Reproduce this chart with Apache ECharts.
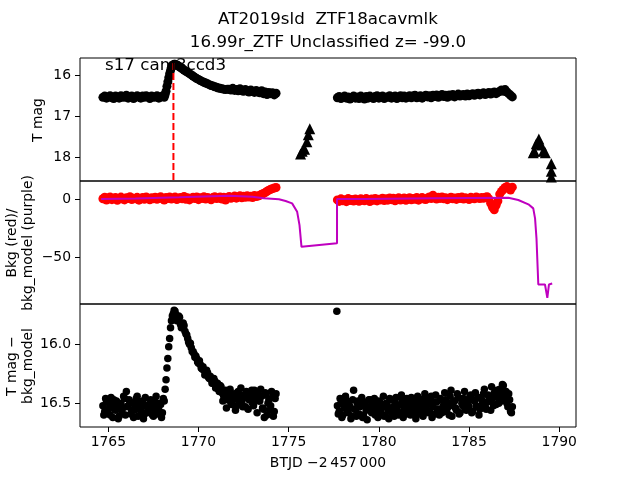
<!DOCTYPE html>
<html>
<head>
<meta charset="utf-8">
<script src="https://cdn.jsdelivr.net/npm/echarts@6/dist/echarts.min.js"></script>
<style>
  html, body { margin: 0; padding: 0; background: #fff; }
  #main { width: 640px; height: 480px; }
</style>
</head>
<body>
<div id="main"></div>
<script>
// first orbit (BTJD - 2457000)
var tA = [
  1764.7, 1764.8, 1764.9, 1765.0, 1765.1, 1765.2, 1765.3, 1765.4, 1765.5, 1765.6,
  1765.7, 1765.8, 1765.9, 1766.0, 1766.1, 1766.2, 1766.3, 1766.4, 1766.5, 1766.6,
  1766.7, 1766.8, 1766.9, 1767.0, 1767.1, 1767.2, 1767.3, 1767.4, 1767.5, 1767.6,
  1767.7, 1767.8, 1767.9, 1768.0, 1768.1, 1768.2, 1768.3, 1768.4, 1768.5, 1768.6,
  1768.7, 1768.8, 1768.9, 1769.0, 1769.1, 1769.2, 1769.3, 1769.4, 1769.5, 1769.6,
  1769.7, 1769.8, 1769.9, 1770.0, 1770.1, 1770.2, 1770.3, 1770.4, 1770.5, 1770.6,
  1770.7, 1770.8, 1770.9, 1771.0, 1771.1, 1771.2, 1771.3, 1771.4, 1771.5, 1771.6,
  1771.7, 1771.8, 1771.9, 1772.0, 1772.1, 1772.2, 1772.3, 1772.4, 1772.5, 1772.6,
  1772.7, 1772.8, 1772.9, 1773.0, 1773.1, 1773.2, 1773.3, 1773.4, 1773.5, 1773.6,
  1773.7, 1773.8, 1773.9, 1774.0, 1774.1, 1774.2, 1774.3
];
var mag1A = [
  16.53, 16.50, 16.55, 16.52, 16.49, 16.54, 16.56, 16.50, 16.52, 16.55,
  16.49, 16.53, 16.52, 16.48, 16.55, 16.52, 16.50, 16.56, 16.53, 16.49,
  16.52, 16.55, 16.50, 16.53, 16.49, 16.52, 16.56, 16.50, 16.53, 16.52,
  16.49, 16.55, 16.52, 16.50, 16.53, 16.38, 16.15, 15.95, 15.80, 15.74,
  15.72, 15.74, 15.77, 15.80, 15.83, 15.86, 15.89, 15.92, 15.95, 15.98,
  16.01, 16.04, 16.07, 16.09, 16.12, 16.14, 16.16, 16.18, 16.20, 16.22,
  16.24, 16.25, 16.27, 16.28, 16.30, 16.31, 16.32, 16.33, 16.34, 16.33,
  16.33, 16.35, 16.31, 16.36, 16.34, 16.37, 16.32, 16.37, 16.38, 16.34,
  16.37, 16.40, 16.35, 16.39, 16.41, 16.36, 16.40, 16.42, 16.37, 16.44,
  16.40, 16.46, 16.41, 16.44, 16.42, 16.47, 16.43
];
var bkgA = [
  0.5, 1.8, -0.6, 1.2, 2.0, -0.3, 0.9, 1.5, -0.8, 0.7,
  1.9, 0.2, -0.5, 1.4, 0.6, 2.2, -0.2, 1.0, 0.4, 1.7,
  -0.7, 0.8, 1.6, 0.1, 2.1, 0.9, -0.4, 1.3, 0.5, 1.8,
  0.0, 1.1, 2.3, 0.4, -0.6, 1.5, 0.7, 1.9, 0.3, 1.2,
  2.0, -0.2, 0.9, 1.6, 0.5, 2.4, 0.1, 1.3, -0.5, 1.0,
  1.8, 0.6, 2.1, -0.3, 1.4, 0.8, 2.2, 0.2, 1.6, 0.9,
  -0.4, 1.5, 2.3, 0.7, 1.1, 2.0, 0.3, 1.7, -0.6, 1.2,
  2.4, 0.9, 1.6, 2.8, 1.0, 2.2, 3.0, 1.4, 2.6, 1.8,
  3.1, 2.0, 2.7, 1.5, 3.3, 2.4, 2.9, 3.5, 4.4, 5.0,
  5.8, 7.0, 7.9, 8.6, 9.2, 9.8, 10.2
];
var mag3A = [
  16.52, 16.57, 16.49, 16.55, 16.60, 16.51, 16.47, 16.56, 16.53, 16.61,
  16.50, 16.54, 16.46, 16.40, 16.52, 16.49, 16.56, 16.62, 16.51, 16.44,
  16.55, 16.53, 16.48, 16.59, 16.52, 16.57, 16.50, 16.54, 16.61, 16.49,
  16.53, 16.56, 16.51, 16.58, 16.48, 16.30, 16.12, 15.95, 15.80, 15.74,
  15.72, 15.80, 15.76, 15.83, 15.85, 15.84, 15.91, 15.95, 16.00, 16.03,
  16.06, 16.11, 16.12, 16.16, 16.17, 16.21, 16.22, 16.25, 16.24, 16.29,
  16.30, 16.33, 16.31, 16.36, 16.38, 16.35, 16.41, 16.44, 16.39, 16.47,
  16.43, 16.50, 16.42, 16.46, 16.52, 16.40, 16.45, 16.49, 16.43, 16.53,
  16.41, 16.47, 16.44, 16.50, 16.39, 16.46, 16.42, 16.48, 16.44, 16.55,
  16.41, 16.60, 16.47, 16.52, 16.45, 16.57, 16.42
];
// half-step cadences of the first orbit (bottom panel only)
var tA2 = [
  1764.75, 1764.85, 1764.95, 1765.05, 1765.15, 1765.25, 1765.35, 1765.45, 1765.55, 1765.65,
  1765.75, 1765.85, 1765.95, 1766.05, 1766.15, 1766.25, 1766.35, 1766.45, 1766.55, 1766.65,
  1766.75, 1766.85, 1766.95, 1767.05, 1767.15, 1767.25, 1767.35, 1767.45, 1767.55, 1767.65,
  1767.75, 1767.85, 1767.95, 1768.05, 1768.15, 1768.25, 1768.35, 1768.45, 1768.55, 1768.65,
  1768.75, 1768.85, 1768.95, 1769.05, 1769.15, 1769.25, 1769.35, 1769.45, 1769.55, 1769.65,
  1769.75, 1769.85, 1769.95, 1770.05, 1770.15, 1770.25, 1770.35, 1770.45, 1770.55, 1770.65,
  1770.75, 1770.85, 1770.95, 1771.05, 1771.15, 1771.25, 1771.35, 1771.45, 1771.55, 1771.65,
  1771.75, 1771.85, 1771.95, 1772.05, 1772.15, 1772.25, 1772.35, 1772.45, 1772.55, 1772.65,
  1772.75, 1772.85, 1772.95, 1773.05, 1773.15, 1773.25, 1773.35, 1773.45, 1773.55, 1773.65,
  1773.75, 1773.85, 1773.95, 1774.05, 1774.15, 1774.25
];
var mag3A2 = [
  16.60, 16.46, 16.58, 16.50, 16.45, 16.62, 16.55, 16.48, 16.63, 16.51,
  16.57, 16.44, 16.60, 16.53, 16.47, 16.59, 16.50, 16.56, 16.46, 16.61,
  16.49, 16.57, 16.63, 16.45, 16.58, 16.52, 16.47, 16.60, 16.55, 16.44,
  16.59, 16.50, 16.62, 16.46, 16.38, 16.20, 16.02, 15.86, 15.76, 15.71,
  15.75, 15.79, 15.77, 15.86, 15.82, 15.89, 15.92, 15.98, 15.99, 16.06,
  16.08, 16.10, 16.15, 16.14, 16.20, 16.19, 16.26, 16.22, 16.28, 16.27,
  16.33, 16.29, 16.37, 16.33, 16.40, 16.36, 16.48, 16.40, 16.54, 16.44,
  16.38, 16.51, 16.46, 16.56, 16.41, 16.49, 16.37, 16.53, 16.45, 16.40,
  16.55, 16.47, 16.39, 16.52, 16.44, 16.58, 16.48, 16.38, 16.54, 16.62,
  16.43, 16.50, 16.56, 16.40, 16.61, 16.46
];
// extra points on the fast rise
var riseT = [1768.15, 1768.25, 1768.35, 1768.45, 1768.55, 1768.65, 1768.75, 1768.85];
var riseMag1 = [16.46, 16.26, 16.05, 15.87, 15.76, 15.72, 15.73, 15.75];

// second orbit
var tB = [
  1777.7, 1777.8, 1777.9, 1778.0, 1778.1, 1778.2, 1778.3, 1778.4, 1778.5, 1778.6,
  1778.7, 1778.8, 1778.9, 1779.0, 1779.1, 1779.2, 1779.3, 1779.4, 1779.5, 1779.6,
  1779.7, 1779.8, 1779.9, 1780.0, 1780.1, 1780.2, 1780.3, 1780.4, 1780.5, 1780.6,
  1780.7, 1780.8, 1780.9, 1781.0, 1781.1, 1781.2, 1781.3, 1781.4, 1781.5, 1781.6,
  1781.7, 1781.8, 1781.9, 1782.0, 1782.1, 1782.2, 1782.3, 1782.4, 1782.5, 1782.6,
  1782.7, 1782.8, 1782.9, 1783.0, 1783.1, 1783.2, 1783.3, 1783.4, 1783.5, 1783.6,
  1783.7, 1783.8, 1783.9, 1784.0, 1784.1, 1784.2, 1784.3, 1784.4, 1784.5, 1784.6,
  1784.7, 1784.8, 1784.9, 1785.0, 1785.1, 1785.2, 1785.3, 1785.4, 1785.5, 1785.6,
  1785.7, 1785.8, 1785.9, 1786.0, 1786.1, 1786.2, 1786.3, 1786.4, 1786.5, 1786.6,
  1786.7, 1786.8, 1786.9, 1787.0, 1787.1, 1787.2, 1787.3, 1787.4
];
var mag1B = [
  16.54, 16.51, 16.56, 16.53, 16.50, 16.55, 16.52, 16.57, 16.53, 16.50,
  16.55, 16.52, 16.56, 16.50, 16.53, 16.57, 16.51, 16.55, 16.50, 16.53,
  16.56, 16.51, 16.49, 16.55, 16.53, 16.50, 16.56, 16.52, 16.53, 16.49,
  16.55, 16.52, 16.50, 16.56, 16.52, 16.49, 16.54, 16.50, 16.55, 16.52,
  16.49, 16.54, 16.50, 16.48, 16.54, 16.52, 16.49, 16.55, 16.51, 16.48,
  16.52, 16.49, 16.54, 16.48, 16.51, 16.47, 16.53, 16.50, 16.46, 16.51,
  16.48, 16.53, 16.47, 16.50, 16.46, 16.52, 16.49, 16.45, 16.50, 16.47,
  16.46, 16.50, 16.45, 16.49, 16.46, 16.44, 16.48, 16.45, 16.43, 16.47,
  16.44, 16.42, 16.46, 16.43, 16.41, 16.45, 16.42, 16.40, 16.44, 16.41,
  16.38, 16.35, 16.38, 16.34, 16.40, 16.44, 16.48, 16.52
];
var bkgB = [
  -0.5, -1.8, 0.4, -1.2, -0.3, -2.0, 0.6, -1.0, -0.2, -1.5,
  0.3, -0.9, -1.7, 0.5, -0.6, -1.3, 0.8, -0.4, -1.9, 0.2,
  -0.8, 0.7, -1.4, 0.1, -0.5, 1.0, -1.1, 0.4, -0.7, 1.2,
  -0.3, 0.9, -1.2, 0.5, 1.3, -0.6, 0.2, 1.1, -0.9, 0.6,
  1.4, -0.4, 0.8, 0.0, 1.6, -0.7, 0.9, 1.5, 0.3, -0.2,
  1.1, 2.0, 0.6, 3.5, 1.4, 0.2, 1.7, 0.8, 2.1, 0.5,
  1.3, -0.3, 0.9, 1.8, 0.4, 1.2, -0.1, 1.6, 0.7, 1.9,
  0.3, 1.4, 0.8, -0.2, 1.7, 1.0, 0.5, 2.0, 1.2, 0.6,
  1.5, 0.9, 1.8, 2.3, 0.4, -3.5, -6.8, -9.0, -5.2, -1.5,
  4.5, 6.8, 8.5, 10.2, 11.0, 9.6, 8.0, 10.5
];
var mag3B = [
  16.52, 16.57, 16.50, 16.60, 16.54, 16.48, 16.58, 16.53, 16.61, 16.39,
  16.55, 16.50, 16.59, 16.52, 16.62, 16.49, 16.56, 16.53, 16.47, 16.58,
  16.51, 16.60, 16.54, 16.48, 16.57, 16.52, 16.61, 16.50, 16.55, 16.46,
  16.58, 16.53, 16.49, 16.56, 16.60, 16.51, 16.47, 16.55, 16.59, 16.50,
  16.54, 16.45, 16.57, 16.52, 16.60, 16.48, 16.53, 16.58, 16.46, 16.55,
  16.50, 16.57, 16.44, 16.53, 16.59, 16.49, 16.55, 16.46, 16.58, 16.51,
  16.47, 16.54, 16.60, 16.39, 16.52, 16.48, 16.56, 16.45, 16.58, 16.50,
  16.46, 16.55, 16.49, 16.53, 16.43, 16.57, 16.48, 16.52, 16.45, 16.55,
  16.47, 16.42, 16.53, 16.49, 16.44, 16.56, 16.46, 16.41, 16.51, 16.45,
  16.38, 16.48, 16.35, 16.44, 16.50, 16.42, 16.57, 16.53
];
var tB2 = [
  1777.75, 1777.85, 1777.95, 1778.05, 1778.15, 1778.25, 1778.35, 1778.45, 1778.55, 1778.65,
  1778.75, 1778.85, 1778.95, 1779.05, 1779.15, 1779.25, 1779.35, 1779.45, 1779.55, 1779.65,
  1779.75, 1779.85, 1779.95, 1780.05, 1780.15, 1780.25, 1780.35, 1780.45, 1780.55, 1780.65,
  1780.75, 1780.85, 1780.95, 1781.05, 1781.15, 1781.25, 1781.35, 1781.45, 1781.55, 1781.65,
  1781.75, 1781.85, 1781.95, 1782.05, 1782.15, 1782.25, 1782.35, 1782.45, 1782.55, 1782.65,
  1782.75, 1782.85, 1782.95, 1783.05, 1783.15, 1783.25, 1783.35, 1783.45, 1783.55, 1783.65,
  1783.75, 1783.85, 1783.95, 1784.05, 1784.15, 1784.25, 1784.35, 1784.45, 1784.55, 1784.65,
  1784.75, 1784.85, 1784.95, 1785.05, 1785.15, 1785.25, 1785.35, 1785.45, 1785.55, 1785.65,
  1785.75, 1785.85, 1785.95, 1786.05, 1786.15, 1786.25, 1786.35, 1786.45, 1786.55, 1786.65,
  1786.75, 1786.85, 1786.95, 1787.05, 1787.15, 1787.25, 1787.35
];
var mag3B2 = [
  16.59, 16.46, 16.62, 16.51, 16.44, 16.57, 16.49, 16.63, 16.47, 16.55,
  16.61, 16.48, 16.53, 16.45, 16.60, 16.52, 16.64, 16.47, 16.56, 16.50,
  16.46, 16.58, 16.62, 16.49, 16.54, 16.44, 16.60, 16.51, 16.63, 16.47,
  16.55, 16.61, 16.45, 16.52, 16.58, 16.43, 16.62, 16.50, 16.46, 16.57,
  16.60, 16.48, 16.53, 16.63, 16.44, 16.56, 16.50, 16.61, 16.42, 16.52,
  16.58, 16.46, 16.62, 16.49, 16.43, 16.55, 16.60, 16.47, 16.53, 16.41,
  16.57, 16.50, 16.44, 16.61, 16.48, 16.54, 16.42, 16.59, 16.46, 16.52,
  16.40, 16.56, 16.49, 16.44, 16.58, 16.47, 16.41, 16.53, 16.60, 16.45,
  16.50, 16.38, 16.55, 16.43, 16.48, 16.36, 16.52, 16.44, 16.39, 16.50,
  16.42, 16.34, 16.46, 16.40, 16.53, 16.47, 16.58
];
var oddT = [1777.67];
var oddMag3 = [15.72];

// background model (purple line)
var modelT = [1764.60, 1766.50, 1768.93, 1771.69, 1772.98, 1773.63, 1774.46, 1774.83, 1775.19,
  1775.47, 1775.60, 1775.71, 1777.68, 1777.68, 1779.25, 1782.92, 1787.18, 1787.73, 1788.29,
  1788.56, 1788.66, 1788.74, 1788.84, 1789.21, 1789.34, 1789.43, 1789.61];
var modelBkg = [0.3, 0.8, 1.7, 3.1, 2.2, 0.9, 0.0, -1.5, -3.5,
  -10.8, -22.2, -41.0, -38.0, 0.3, 0.3, 0.9, 1.4, -0.6, -4.3,
  -7.8, -16.4, -33.9, -73.5, -73.5, -85.0, -73.5, -72.6];

// ZTF upper limits (triangles)
var ulT = [1775.66, 1775.75, 1775.88, 1776.01, 1776.09, 1776.17,
  1788.56, 1788.62, 1788.73, 1788.87, 1789.00, 1789.12, 1789.23, 1789.56, 1789.56, 1789.56];
var ulMag = [17.92, 17.85, 17.80, 17.62, 17.45, 17.30,
  17.89, 17.85, 17.67, 17.55, 17.70, 17.85, 17.89, 18.16, 18.34, 18.48];

var peakT = 1768.61;
var xTicks = [1765, 1770, 1775, 1780, 1785, 1790];
var magTicks = [16, 17, 18];
var bkgTicks = [0, -50];
var diffTicks = [16.0, 16.5];

function pairs(xs, ys) {
  return xs.map(function (x, i) { return [x, ys[i]]; });
}

var FF = 'DejaVu Sans';
var chart = echarts.init(document.getElementById('main'));

var grids = [
  { left: 80, width: 496, top: 58, height: 123 },
  { left: 80, width: 496, top: 181, height: 123 },
  { left: 80, width: 496, top: 304, height: 123 }
].map(function (g) {
  g.show = true; g.borderColor = '#000'; g.borderWidth = 1; g.backgroundColor = 'transparent';
  return g;
});

var xAxes = [0, 1, 2].map(function (i) {
  return {
    type: 'value', gridIndex: i, min: 1763.43, max: 1790.93,
    axisLine: { show: false }, splitLine: { show: false },
    axisTick: { show: i === 2, customValues: xTicks, length: 5, lineStyle: { color: '#000' } },
    axisLabel: {
      show: i === 2, customValues: xTicks, margin: 8, color: '#000', fontSize: 13.9, fontFamily: FF,
      formatter: function (v) { return String(v); }
    }
  };
});

function yAxis(i, min, max, inv, ticks, fmt) {
  return {
    type: 'value', gridIndex: i, min: min, max: max, inverse: inv,
    axisLine: { show: false }, splitLine: { show: false },
    axisTick: { show: true, customValues: ticks, length: 5, lineStyle: { color: '#000' } },
    axisLabel: { customValues: ticks, margin: 9, color: '#000', fontSize: 13.9, fontFamily: FF, formatter: fmt }
  };
}

var option = {
  animation: false,
  backgroundColor: '#fff',
  grid: grids,
  xAxis: xAxes,
  yAxis: [
    yAxis(0, 15.566, 18.581, true, magTicks, function (v) { return String(v); }),
    yAxis(1, -90.3, 15.8, false, bkgTicks, function (v) { return String(v).replace('-', '\u2212'); }),
    yAxis(2, 15.658, 16.701, true, diffTicks, function (v) { return v.toFixed(1); })
  ],
  series: [
    {
      type: 'scatter', xAxisIndex: 0, yAxisIndex: 0, symbolSize: 9,
      itemStyle: { color: '#000', opacity: 1 },
      data: pairs(tA, mag1A).concat(pairs(riseT, riseMag1), pairs(tB, mag1B))
    },
    {
      type: 'scatter', xAxisIndex: 0, yAxisIndex: 0, symbol: 'triangle', symbolSize: 11,
      itemStyle: { color: '#000', opacity: 1 },
      data: pairs(ulT, ulMag)
    },
    {
      type: 'line', xAxisIndex: 0, yAxisIndex: 0, showSymbol: false, z: 5,
      lineStyle: { color: '#ff0000', width: 2, type: [7, 3] },
      data: [[peakT, 15.69], [peakT, 18.6]]
    },
    {
      type: 'scatter', xAxisIndex: 1, yAxisIndex: 1, symbolSize: 9,
      itemStyle: { color: '#ff0000', opacity: 1 },
      data: pairs(tA, bkgA).concat(pairs(tB, bkgB))
    },
    {
      type: 'line', xAxisIndex: 1, yAxisIndex: 1, showSymbol: false, z: 5,
      lineStyle: { color: '#bf00bf', width: 2 },
      data: pairs(modelT, modelBkg)
    },
    {
      type: 'scatter', xAxisIndex: 2, yAxisIndex: 2, symbolSize: 7.5,
      itemStyle: { color: '#000', opacity: 1 },
      data: pairs(tA, mag3A).concat(pairs(tA2, mag3A2), pairs(tB, mag3B), pairs(tB2, mag3B2), pairs(oddT, oddMag3))
    }
  ],
  graphic: [
    { type: 'text', x: 328, y: 20, z: 10, style: { text: 'AT2019sld  ZTF18acavmlk', font: '16.7px ' + FF, fill: '#000', align: 'center', verticalAlign: 'middle' } },
    { type: 'text', x: 328, y: 43, z: 10, style: { text: '16.99r_ZTF Unclassified z= -99.0', font: '16.7px ' + FF, fill: '#000', align: 'center', verticalAlign: 'middle' } },
    { type: 'text', x: 105, y: 66, z: 10, style: { text: 's17 cam3ccd3', font: '16.7px ' + FF, fill: '#000', align: 'left', verticalAlign: 'middle' } },
    { type: 'text', x: 38, y: 120, rotation: Math.PI / 2, style: { text: 'T mag', font: '13.9px ' + FF, fill: '#000', align: 'center', verticalAlign: 'middle' } },
    { type: 'text', x: 20, y: 243, rotation: Math.PI / 2, style: { text: 'Bkg (red)/\nbkg_model (purple)', font: '13.9px ' + FF, lineHeight: 16, fill: '#000', align: 'center', verticalAlign: 'middle' } },
    { type: 'text', x: 20, y: 366, rotation: Math.PI / 2, style: { text: 'T mag \u2212\nbkg_model', font: '13.9px ' + FF, lineHeight: 16, fill: '#000', align: 'center', verticalAlign: 'middle' } },
    { type: 'text', x: 328, y: 463, style: { text: 'BTJD \u22122\u2009457\u2009000', font: '13.9px ' + FF, fill: '#000', align: 'center', verticalAlign: 'middle' } }
  ]
};
chart.setOption(option);
</script>
</body>
</html>
